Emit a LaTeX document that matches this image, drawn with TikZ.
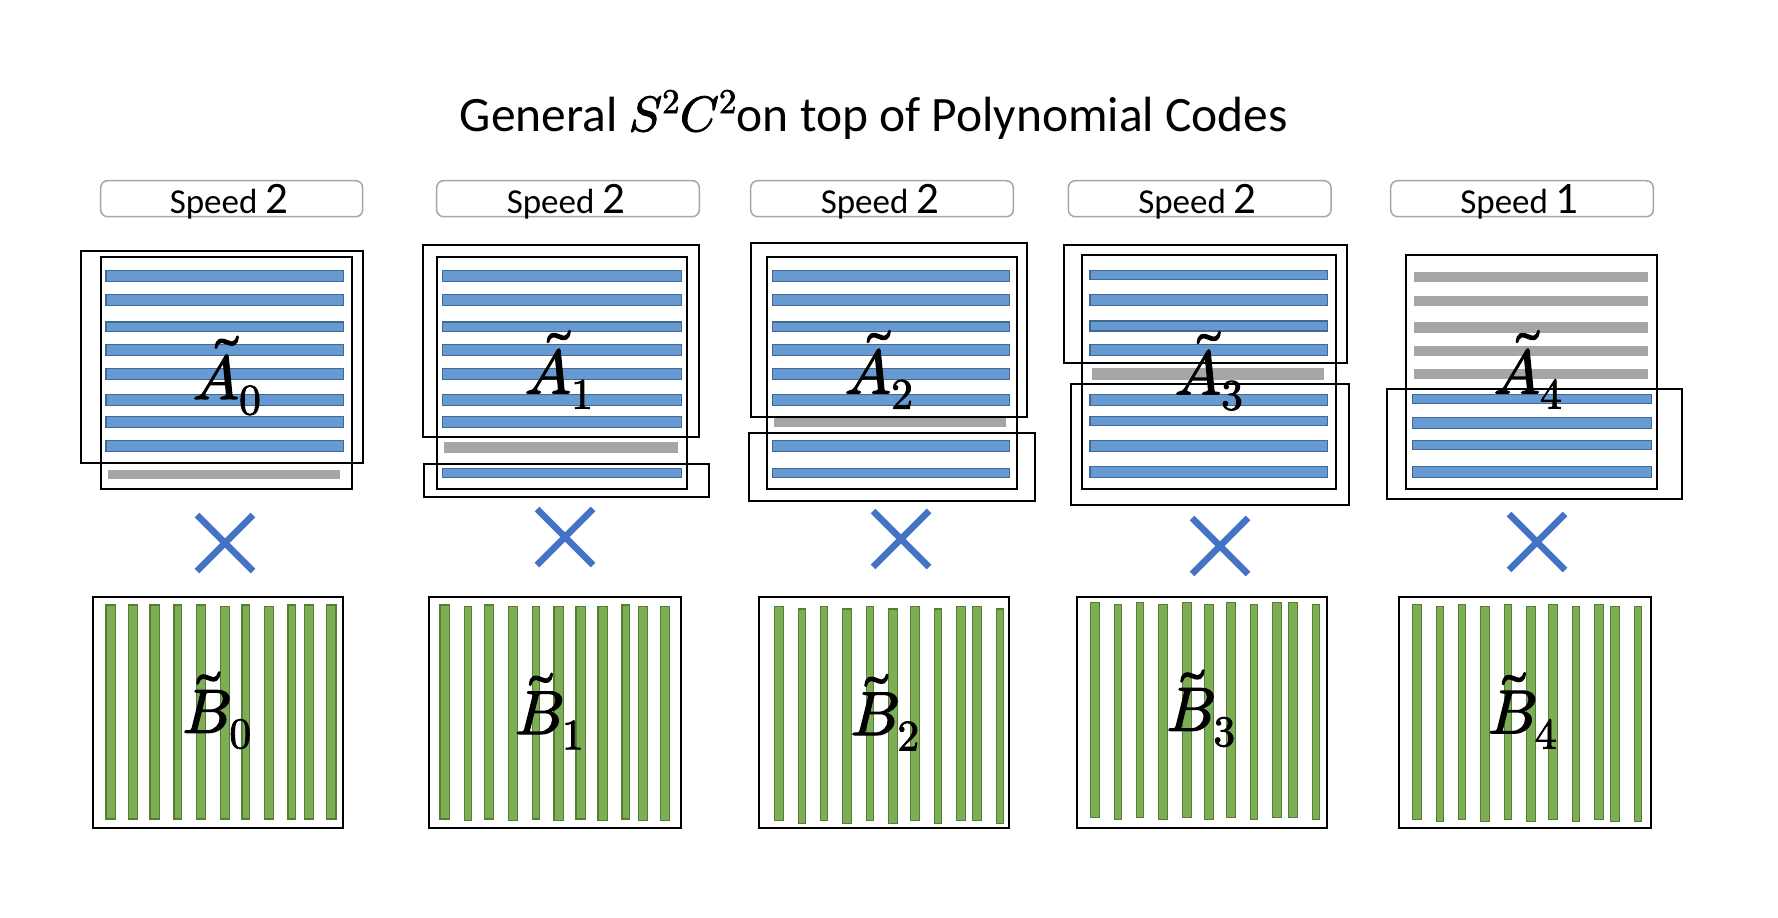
\documentclass[tikz,border=0pt]{standalone}
\usepackage{amsmath}
\usepackage{unicode-math}
\setmainfont{Carlito}
\setmathfont{Latin Modern Math}[FakeBold=2]
\definecolor{bluefill}{RGB}{103,154,208}
\definecolor{blueedge}{RGB}{65,105,150}
\definecolor{greenfill}{RGB}{125,173,85}
\definecolor{greenedge}{RGB}{84,126,52}
\definecolor{bargray}{RGB}{166,166,166}
\definecolor{speedgray}{RGB}{166,166,166}
\definecolor{crossblue}{RGB}{68,114,196}
\newcommand{\rowbars}[4]{\foreach \yc/\hh in {#4} {\path[#3] (#1,{\yc-\hh/2}) rectangle (#2,{\yc+\hh/2});}}
\newcommand{\colbars}[1]{\foreach \xc/\ww/\tp/\bt in {#1} {\path[greenbar] ({\xc-\ww/2},\tp) rectangle ({\xc+\ww/2},\bt);}}
\newcommand{\crossmark}[2]{\draw[crossline] ({#1-28},{#2-28}) -- ({#1+28},{#2+28}); \draw[crossline] ({#1+28},{#2-28}) -- ({#1-28},{#2+28});}
\newcommand{\mlab}[2]{$\tilde{#1}_{#2}$}
\begin{document}
\begin{tikzpicture}[x=1pt,y=-1pt,
  boxline/.style={draw=black, line width=2pt},
  speedbox/.style={draw=speedgray, line width=1.5pt, rounded corners=7pt},
  bluebar/.style={draw=blueedge, fill=bluefill, line width=1.2pt},
  graybar/.style={fill=bargray},
  greenbar/.style={draw=greenedge, fill=greenfill, line width=1.2pt},
  crossline/.style={draw=crossblue, line width=6.5pt},
  speedtxt/.style={anchor=base, inner sep=0pt},
  lbl/.style={anchor=base, inner sep=0pt, font=\fontsize{62}{70}\selectfont},
  ttl/.style={anchor=base, inner sep=0pt, font=\fontsize{49.5}{60}\selectfont}]
\useasboundingbox (0,0) rectangle (1778,918);
\fill[white] (0,0) rectangle (1778,918);

% title
\node[ttl] (title) at (874,131) {General $S^2C^2$on top of Polynomial Codes};

% speed boxes
\foreach \xa/\xb in {100.7/362.7, 436.7/699.3, 750.7/1013.3, 1068.3/1331, 1390.7/1653.3}
  {\draw[speedbox] (\xa,180.7) rectangle (\xb,216.7);}
\node[speedtxt] (s0) at (229,213.3) {\fontsize{35}{40}\selectfont Speed \fontsize{45}{50}\selectfont 2};
\node[speedtxt] (s1) at (566,213.3) {\fontsize{35}{40}\selectfont Speed \fontsize{45}{50}\selectfont 2};
\node[speedtxt] (s2) at (880,213.3) {\fontsize{35}{40}\selectfont Speed \fontsize{45}{50}\selectfont 2};
\node[speedtxt] (s3) at (1197.5,213.3) {\fontsize{35}{40}\selectfont Speed \fontsize{45}{50}\selectfont 2};
\node[speedtxt] (s4) at (1519.5,213.3) {\fontsize{35}{40}\selectfont Speed \fontsize{45}{50}\selectfont 1};

% ---------- panel 0
\rowbars{106}{343.7}{bluebar}{275.7/11, 299.7/11, 326.7/9.5, 350/11, 373.7/11, 399.7/11, 421.7/11, 445.7/11}
\rowbars{108.3}{340}{graybar}{474.7/9.5}
\draw[boxline] (80.7,250.7) rectangle (363.3,463.3);
\draw[boxline] (100.7,256.7) rectangle (351.7,489.3);

% ---------- panel 1
\rowbars{442.3}{681.7}{bluebar}{275.7/11, 299.7/11, 326.7/9.5, 350/11, 373.7/11, 399.7/11, 421.7/11, 472.7/9}
\rowbars{444}{678}{graybar}{447.7/11}
\draw[boxline] (422.7,245) rectangle (699.3,436.7);
\draw[boxline] (436.7,256.7) rectangle (687.3,489.3);
\draw[boxline] (424.3,464.3) rectangle (709.3,496.7);

% ---------- panel 2
\rowbars{772.3}{1009.3}{bluebar}{275.7/11, 299.7/11, 326.7/9.5, 350/11, 373.7/11, 399.7/11, 445.7/11, 472.7/9}
\rowbars{774}{1006}{graybar}{422.3/10}
\draw[boxline] (750.7,242.7) rectangle (1027.3,416.7);
\draw[boxline] (766.7,256.7) rectangle (1017.3,489.3);
\draw[boxline] (748.7,433.3) rectangle (1035.3,500.7);

% ---------- panel 3
\rowbars{1090}{1327.7}{bluebar}{275/9.5, 299.7/11, 326/10, 350/11, 400/11, 421/9.5, 445.7/11, 472/11}
\rowbars{1091.7}{1324}{graybar}{374/11.5}
\draw[boxline] (1064.3,245) rectangle (1347.3,362.7);
\draw[boxline] (1082.3,255) rectangle (1335.7,489.3);
\draw[boxline] (1070.7,384.3) rectangle (1349.3,505);

% ---------- panel 4
\rowbars{1414}{1648.3}{graybar}{276.7/10, 300.7/10, 327.7/11, 350.7/10, 374/10}
\rowbars{1412.3}{1651.7}{bluebar}{398.7/9, 423.3/11, 445/9, 471.7/11}
\draw[boxline] (1406,255) rectangle (1657.3,489.3);
\draw[boxline] (1386.7,388.7) rectangle (1681.7,499.3);

% A labels
\node[lbl] (A0) at (227,399) {\mlab{A}{0}};
\node[lbl] (A1) at (559,393.3) {\mlab{A}{1}};
\node[lbl] (A2) at (879,393.3) {\mlab{A}{2}};
\node[lbl] (A3) at (1209,394.3) {\mlab{A}{3}};
\node[lbl] (A4) at (1528,393.3) {\mlab{A}{4}};

% crosses
\crossmark{225}{543}
\crossmark{565}{537}
\crossmark{901}{539}
\crossmark{1220}{546}
\crossmark{1537}{542}

% ---------- B panels
\colbars{110.7/9.3/605/819, 133/9.3/605/819, 154.7/9.3/605/819, 177.7/7.3/605/819, 201/9.3/605/819, 225/9.3/606.7/819, 245.7/7.3/605/819, 269/9.3/606.7/819, 291.7/7.3/605/819, 309/9.3/605/819, 331.3/9.3/605/819}
\draw[boxline] (92.7,596.7) rectangle (343.3,828.3);

\colbars{444.7/9.3/605/819, 468/7.3/606.7/820.7, 489/9.3/605/819, 513/9.3/606.7/820.7, 536/7.3/606.7/819, 558.7/9.3/606.7/820.7, 580.7/9.3/606.7/819, 602.7/9.3/606.7/820.7, 625.7/7.3/605/819, 643/9.3/606.7/820.7, 665/9.3/606.7/820.7}
\draw[boxline] (429,596.7) rectangle (681,828.3);

\colbars{779/9.3/606.7/820.7, 802/7.3/609/823.3, 824/7.3/606.7/820.7, 847/9.3/609/823.3, 870/7.3/606.7/820.7, 893/9.3/609/823.3, 915/9.3/606.7/820.7, 938/7.3/609/823.3, 961/9.3/606.7/820.7, 977/9.3/606.7/820.7, 1000/7.3/609/823.3}
\draw[boxline] (758.7,596.7) rectangle (1009.3,828.3);

\colbars{1095/9.3/602.7/817.3, 1118/7.3/604.7/819.3, 1140/7.3/602.7/817.3, 1163/9.3/604.7/819.3, 1187/9.3/602.7/817.3, 1209/9.3/604.7/819.3, 1231/9.3/602.7/817.3, 1254/7.3/604.7/819.3, 1277/9.3/602.7/817.3, 1293/9.3/602.7/817.3, 1316/7.3/604.7/819.3}
\draw[boxline] (1076.7,596.7) rectangle (1327.3,828.3);

\colbars{1417/9.3/604.7/819.3, 1440/7.3/606.7/821.3, 1462/7.3/604.7/819.3, 1485/9.3/606.7/821.3, 1508/7.3/604.7/819.3, 1531/9.3/606.7/821.3, 1553/9.3/604.7/819.3, 1576/7.3/606.7/821.3, 1599/9.3/604.7/819.3, 1615/9.3/606.7/821.3, 1638/7.3/606.7/821.3}
\draw[boxline] (1398.7,596.7) rectangle (1651.3,828.3);

% B labels
\node[lbl] (B0) at (217,732.7) {\mlab{B}{0}};
\node[lbl] (B1) at (549.5,734) {\mlab{B}{1}};
\node[lbl] (B2) at (885,735) {\mlab{B}{2}};
\node[lbl] (B3) at (1201,730.7) {\mlab{B}{3}};
\node[lbl] (B4) at (1522.5,733.3) {\mlab{B}{4}};
\end{tikzpicture}
\end{document}
